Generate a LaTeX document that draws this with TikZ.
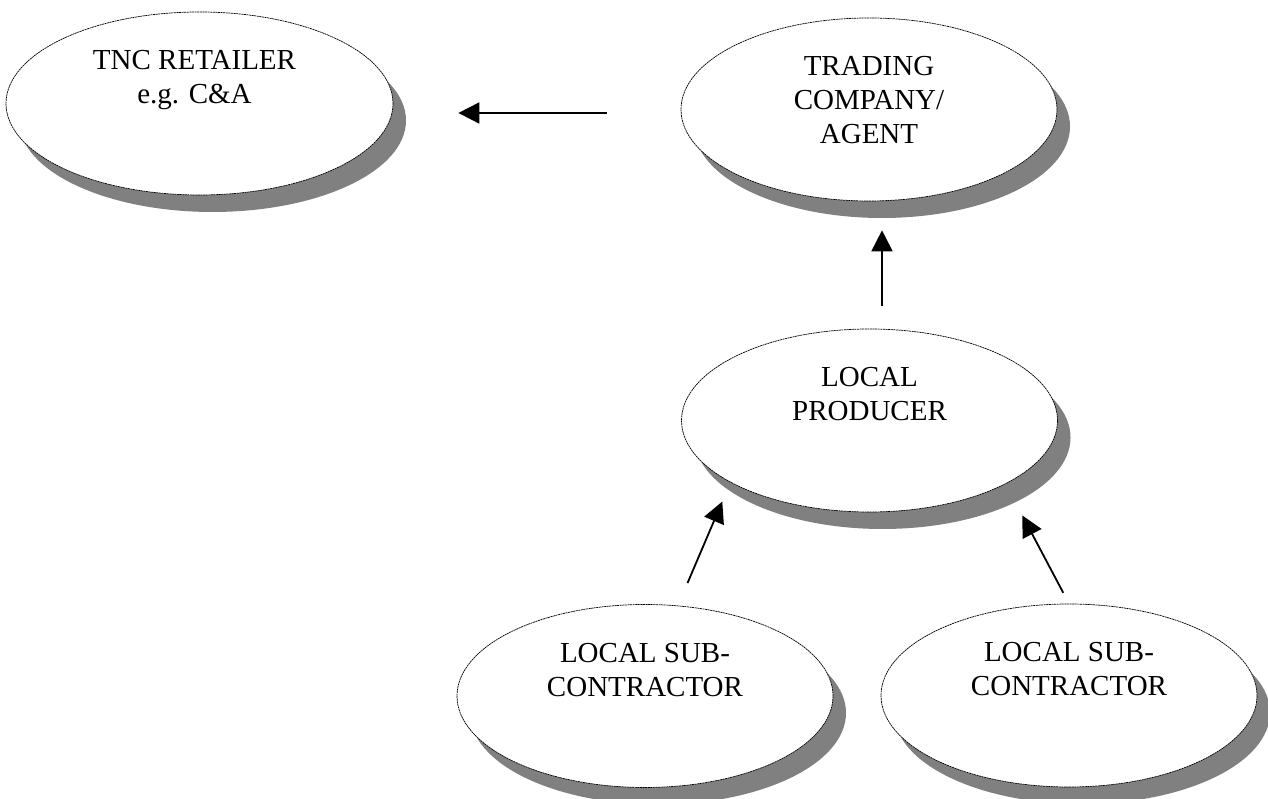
\documentclass[tikz,border=0pt]{standalone}
\usepackage{fontspec}
\setmainfont{Liberation Serif}
\usepackage{tikz}
\usetikzlibrary{arrows.meta,positioning,calc,shapes.geometric,shadows}

\begin{document}
\begin{tikzpicture}[x=1pt,y=1pt,>={Triangle[length=21pt,width=21pt]},
   oval/.style={ellipse,draw,line width=0.7pt,dash pattern=on 2pt off 0.6pt,fill=white,
     minimum width=376pt,minimum height=183pt,inner sep=0pt,
     drop shadow={shadow xshift=13pt,shadow yshift=-17pt,fill=gray,opacity=1}},
   lbl/.style={font=\fontsize{29}{34}\selectfont,align=center,inner sep=0pt,anchor=north},
   arr/.style={->,line width=1.8pt}]
  \useasboundingbox (0,0) rectangle (1268,799);
  % ovals
  \node[oval,minimum width=387pt] (ret) at (199.5,695.5) {};
  \node[oval] (trd) at (869,689.5) {};
  \node[oval] (prd) at (869.5,378.5) {};
  \node[oval] (subl) at (645,103) {};
  \node[oval] (subr) at (1069,103.5) {};
  % texts
  \node[lbl] (ret-t) at ([xshift=-5pt,yshift=53pt]ret.center) {TNC RETAILER\\e.g. C\&A};
  \node[lbl] (trd-t) at ([yshift=53pt]trd.center) {TRADING\\COMPANY/\\AGENT};
  \node[lbl] (prd-t) at ([yshift=53pt]prd.center) {LOCAL\\PRODUCER};
  \node[lbl] (subl-t) at ([yshift=53pt]subl.center) {LOCAL SUB-\\CONTRACTOR};
  \node[lbl] (subr-t) at ([yshift=53pt]subr.center) {LOCAL SUB-\\CONTRACTOR};
  % arrows
  \draw[arr,shorten <=74pt,shorten >=65pt] ([yshift=-3.5pt]trd.west) -- ([yshift=-9.5pt]ret.east);
  \draw[arr,shorten <=23pt,shorten >=29pt] ([xshift=12.5pt]prd.north) -- ([xshift=13pt]trd.south);
  \draw[arr,shorten <=24.5pt,shorten >=20.8pt] (subl.70) -- (prd.204.5);
  \draw[arr,shorten <=12.3pt,shorten >=35.6pt] (subr.north) -- (prd.335.9);
\end{tikzpicture}
\end{document}
